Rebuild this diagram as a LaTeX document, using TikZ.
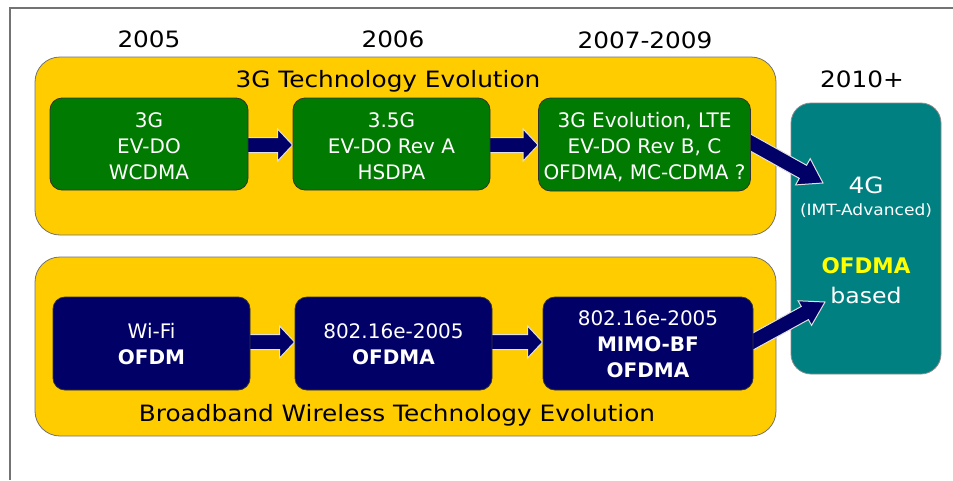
\documentclass[tikz,border=0pt]{standalone}
\usepackage{fontspec}
\setmainfont{DejaVu Sans}
\newfontfamily\hdrfont{DejaVu Sans}[FakeStretch=1.1]
\usetikzlibrary{calc}
\definecolor{panelyellow}{HTML}{FFCC00}
\definecolor{boxgreen}{HTML}{007A00}
\definecolor{boxnavy}{HTML}{000066}
\definecolor{boxteal}{HTML}{008080}
\definecolor{hiyellow}{HTML}{FFFF00}
\pgfdeclarelayer{bg}
\pgfdeclarelayer{arr}
\pgfsetlayers{bg,arr,main}
\newcommand{\blockarr}[5]{%
  \coordinate (bah) at ($(#2)!#4!(#1)$);
  \path[blockarrow] ($(#1)!#3!90:(#2)$) -- ($(bah)!#3!90:(#2)$) -- ($(bah)!#5!90:(#2)$) -- (#2)
    -- ($(bah)!#5!-90:(#2)$) -- ($(bah)!#3!-90:(#2)$) -- ($(#1)!#3!-90:(#2)$) -- cycle;
}
\newcommand{\lowertop}{\rule{0pt}{20pt}}
\tikzset{
  panel/.style={draw=black!55, fill=panelyellow, rounded corners=25pt, line width=0.8pt, inner sep=0pt},
  tbox/.style={draw=black!80, rounded corners=12pt, line width=0.8pt, text=white, align=center,
    inner sep=0pt, font=\fontsize{20}{26}\selectfont},
  gbox/.style={tbox, fill=boxgreen},
  nbox/.style={tbox, fill=boxnavy},
  tealbox/.style={draw=black!45, fill=boxteal, rounded corners=20pt, line width=0.8pt, inner sep=0pt},
  hdr/.style={anchor=base, inner sep=0pt, font=\hdrfont\fontsize{22.5}{27}\selectfont},
  blockarrow/.style={fill=boxnavy, draw=white!88!black, line width=1pt, line join=miter},
}
\begin{document}
\begin{tikzpicture}[x=1pt, y=-1pt]
\useasboundingbox (0,0) rectangle (953,480);
\begin{pgfonlayer}{bg}
\fill[white] (0,0) rectangle (953,480);
\end{pgfonlayer}
\draw[black!55, line width=1.3pt] (10,480) -- (10,8) -- (953,8);

% year labels
\node[hdr] (y1) at (149,47) {2005};
\node[hdr] (y2) at (393,47) {2006};
\node[hdr] (y3) at (645,48) {2007-2009};
\node[hdr] (y4) at (862,87) {2010+};

% panels and the teal box (below the arrows)
\begin{pgfonlayer}{bg}
\node[panel, minimum width=741pt, minimum height=178pt] (p1) at (405.5,146) {};
\node[panel, minimum width=741pt, minimum height=179pt] (p2) at (405.5,346.5) {};
\node[tealbox, minimum width=150pt, minimum height=271pt] (t) at (866,238.5) {};
\end{pgfonlayer}
\node[hdr] (p1t) at (388,87) {3G Technology Evolution};
\node[hdr] (p2t) at (397,421) {Broadband Wireless Technology Evolution};

% green boxes
\node[gbox, minimum width=198pt, minimum height=92pt] (g1) at (149,144) {\lowertop 3G\\EV-DO\\WCDMA};
\node[gbox, minimum width=197pt, minimum height=92pt] (g2) at (391.5,144) {\lowertop 3.5G\\EV-DO Rev A\\HSDPA};
\node[gbox, minimum width=212pt, minimum height=93pt] (g3) at (644.5,144.5) {\lowertop 3G Evolution, LTE\\EV-DO Rev B, C\\OFDMA, MC-CDMA ?};

% navy boxes
\node[nbox, minimum width=197pt, minimum height=93pt] (n1) at (151.5,343.5) {\rule{0pt}{17pt}Wi-Fi\\\textbf{OFDM}};
\node[nbox, minimum width=197pt, minimum height=93pt] (n2) at (393.5,343.5) {\rule{0pt}{17pt}802.16e-2005\\\textbf{OFDMA}};
\node[nbox, minimum width=210pt, minimum height=93pt] (n3) at (648,343.5) {\rule{0pt}{17pt}802.16e-2005\\\textbf{MIMO-BF}\\\textbf{OFDMA}};

% teal box texts
\node[anchor=base, inner sep=0pt, text=white, font=\hdrfont\fontsize{22.5}{27}\selectfont] (t1) at (866,193) {4G};
\node[anchor=base, inner sep=0pt, text=white, font=\hdrfont\fontsize{15.5}{18}\selectfont] (t2) at (866,215) {(IMT-Advanced)};
\node[anchor=base, inner sep=0pt, text=hiyellow, font=\bfseries\fontsize{21.5}{26}\selectfont] (t3) at (866,273) {OFDMA};
\node[anchor=base, inner sep=0pt, text=white, font=\hdrfont\fontsize{21.5}{26}\selectfont] (t4) at (866,303) {based};

% arrows
\coordinate (a1s) at ([xshift=-4pt, yshift=-1pt]g1.east);
\coordinate (a1e) at ([yshift=-1pt]g2.west);
\coordinate (a2s) at ([xshift=-4pt, yshift=-1pt]g2.east);
\coordinate (a2e) at ([yshift=-0.5pt]g3.west);
\coordinate (b1s) at ([xshift=-4pt, yshift=1.5pt]n1.east);
\coordinate (b1e) at ([yshift=1.5pt]n2.west);
\coordinate (b2s) at ([xshift=-4pt, yshift=1.5pt]n2.east);
\coordinate (b2e) at ([yshift=1.5pt]n3.west);
\coordinate (d1s) at ([xshift=-5pt, yshift=4.5pt]g3.east);
\coordinate (d1e) at (823,183);
\coordinate (d2s) at ([xshift=-5pt, yshift=-0.5pt]n3.east);
\coordinate (d2e) at (825,302);
\begin{pgfonlayer}{arr}
\blockarr{a1s}{a1e}{7.5pt}{15pt}{16pt}
\blockarr{a2s}{a2e}{7.5pt}{15pt}{16pt}
\blockarr{b1s}{b1e}{7.5pt}{15pt}{16pt}
\blockarr{b2s}{b2e}{7.5pt}{15pt}{16pt}
\blockarr{d1s}{d1e}{7.5pt}{23pt}{15pt}
\blockarr{d2s}{d2e}{7.5pt}{23pt}{14pt}
\end{pgfonlayer}
\end{tikzpicture}
\end{document}
